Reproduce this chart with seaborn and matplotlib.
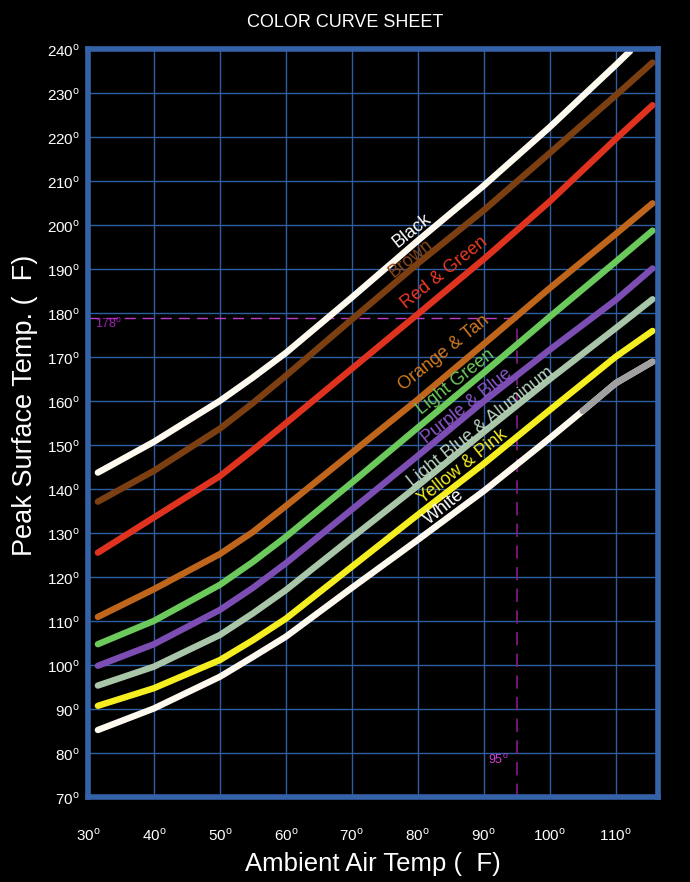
import matplotlib
matplotlib.use("Agg")
import matplotlib.pyplot as plt
import seaborn as sns
import pandas as pd

# ---------------- data ----------------
ambient = [31.5, 40, 50, 55, 60, 70, 80, 90, 100, 110, 115.6]
ambient_black = [31.5, 40, 50, 55, 60, 70, 80, 90, 100, 110, 112.2]
ambient_white = [31.5, 40, 50, 55, 60, 70, 80, 90, 100, 105, 110, 115.6]

black = [143.8, 150.8, 160.1, 165.4, 171.0, 183.6, 196.5, 209.0, 222.3, 236.4, 239.6]
brown = [137.2, 144.2, 153.8, 159.6, 165.8, 178.6, 191.3, 203.4, 216.4, 229.5, 237.0]
red_green = [125.6, 133.6, 143.0, 148.9, 155.0, 167.4, 179.8, 192.3, 205.4, 219.6, 227.3]
orange_tan = [111.0, 117.3, 125.3, 130.3, 136.2, 148.3, 160.4, 173.0, 185.7, 198.0, 205.0]
light_green = [104.8, 110.1, 118.3, 123.5, 129.2, 141.5, 154.0, 166.5, 179.2, 191.7, 198.8]
purple_blue = [99.9, 104.8, 112.6, 117.6, 123.2, 135.4, 147.6, 160.0, 171.7, 183.0, 190.2]
lightblue_alum = [95.4, 99.7, 106.9, 111.8, 117.1, 129.0, 140.8, 153.0, 165.0, 176.6, 183.2]
yellow_pink = [90.8, 94.8, 101.2, 105.7, 110.6, 122.4, 134.2, 145.8, 158.0, 170.1, 176.0]
white = [85.3, 90.2, 97.4, 101.9, 106.5, 117.6, 128.5, 139.6, 151.6, 157.8, 164.1, 169.0]
white_gray_x = [105.0, 110, 115.6]
white_gray_y = [157.8, 164.1, 169.0]

series_names = ["Black", "Brown", "Red & Green", "Orange & Tan", "Light Green",
                "Purple & Blue", "Light Blue & Aluminum", "Yellow & Pink", "White"]
series_values = [black, brown, red_green, orange_tan, light_green,
                 purple_blue, lightblue_alum, yellow_pink, white]
line_colors = ["#fffaf0", "#7b3f12", "#e0331f", "#c0661c", "#6cc95c",
               "#7c4db3", "#a9c6a9", "#f5ef22", "#fffaf0"]
label_colors = ["#ffffff", "#8a4516", "#ea3a22", "#d07820", "#6cc95c",
                "#8a55c8", "#b8d2c0", "#f0ea20", "#ffffff"]
label_x = [79.2, 79.0, 84.0, 84.0, 85.8, 87.5, 89.6, 86.9, 84.0]
label_y = [198.8, 192.5, 189.2, 170.9, 164.5, 159.0, 154.2, 145.1, 135.9]

y_ticks = list(range(70, 241, 10))
x_ticks = list(range(30, 111, 10))
ref_y = 179
ref_x = 95

# ---------------- styling ----------------
sns.set_theme(style="dark")
plt.rcParams["font.family"] = ["Liberation Sans", "DejaVu Sans"]
plt.rcParams["mathtext.fontset"] = "custom"
plt.rcParams["mathtext.rm"] = "Liberation Sans"

fig = plt.figure(figsize=(6.9, 8.82), dpi=100, facecolor="black")
ax = fig.add_axes([0.1275, 0.096, 0.8268, 0.8481])
ax.set_facecolor("black")

x_lists = {"Black": ambient_black, "White": ambient_white}
rows = []
for name, vals in zip(series_names, series_values):
    xs = x_lists.get(name, ambient)
    for xv, yv in zip(xs, vals):
        rows.append({"ambient": xv, "peak": yv, "series": name})
df = pd.DataFrame(rows)

sns.lineplot(data=df, x="ambient", y="peak", hue="series", hue_order=series_names,
             palette=dict(zip(series_names, line_colors)), linewidth=4.6,
             legend=False, ax=ax, sort=True, estimator=None,
             solid_capstyle="round", solid_joinstyle="round", zorder=3)
sns.lineplot(x=white_gray_x, y=white_gray_y, color="#a0a0a0", linewidth=4.6,
             ax=ax, solid_capstyle="round", solid_joinstyle="round", zorder=4)

# reference dashed lines
ax.plot([30, ref_x], [ref_y, ref_y], color="#c03cc8", lw=1.0,
        dashes=(8, 5), zorder=2)
ax.plot([ref_x, ref_x], [70, ref_y], color="#8a1a8a", lw=1.2,
        dashes=(8, 5), zorder=2)
ax.text(31.0, 177.6, "178$^{\\rm o}$", color="#a020b0", fontsize=9,
        ha="left", va="center")
ax.text(90.6, 78.5, "95$^{\\rm o}$", color="#d040d8", fontsize=9,
        ha="left", va="center")

# curve labels
for name, c, lx, ly in zip(series_names, label_colors, label_x, label_y):
    ax.text(lx, ly, name, color=c, fontsize=13, rotation=38.5,
            rotation_mode="anchor", ha="center", va="center", zorder=5)

ax.set_xlim(30, 116.5)
ax.set_ylim(70, 240)
ax.set_xticks(x_ticks)
ax.set_yticks(y_ticks)
ax.set_xticklabels([f"{v}$^{{\\rm o}}$" for v in x_ticks], color="white", fontsize=11)
ax.set_yticklabels([f"{v}$^{{\\rm o}}$" for v in y_ticks], color="white", fontsize=11)
ax.tick_params(axis="x", length=0, pad=21)
ax.tick_params(axis="y", length=0, pad=6)
ax.grid(True, color="#2f5da3", linewidth=1.0)
for s in ax.spines.values():
    s.set_visible(True)
    s.set_color("#3563aa")
    s.set_linewidth(4.0)
    s.set_zorder(6)

ax.set_xlabel("Ambient Air Temp (  F)", color="white", fontsize=18.5, labelpad=6)
ax.set_ylabel("Peak Surface Temp. (  F)", color="white", fontsize=19.5)
ax.yaxis.set_label_coords(-0.087, 0.524)
fig.text(0.5, 0.974, "COLOR CURVE SHEET", color="white", fontsize=13,
         ha="center", va="center")

fig.savefig("out.png", dpi=100, facecolor="black")
